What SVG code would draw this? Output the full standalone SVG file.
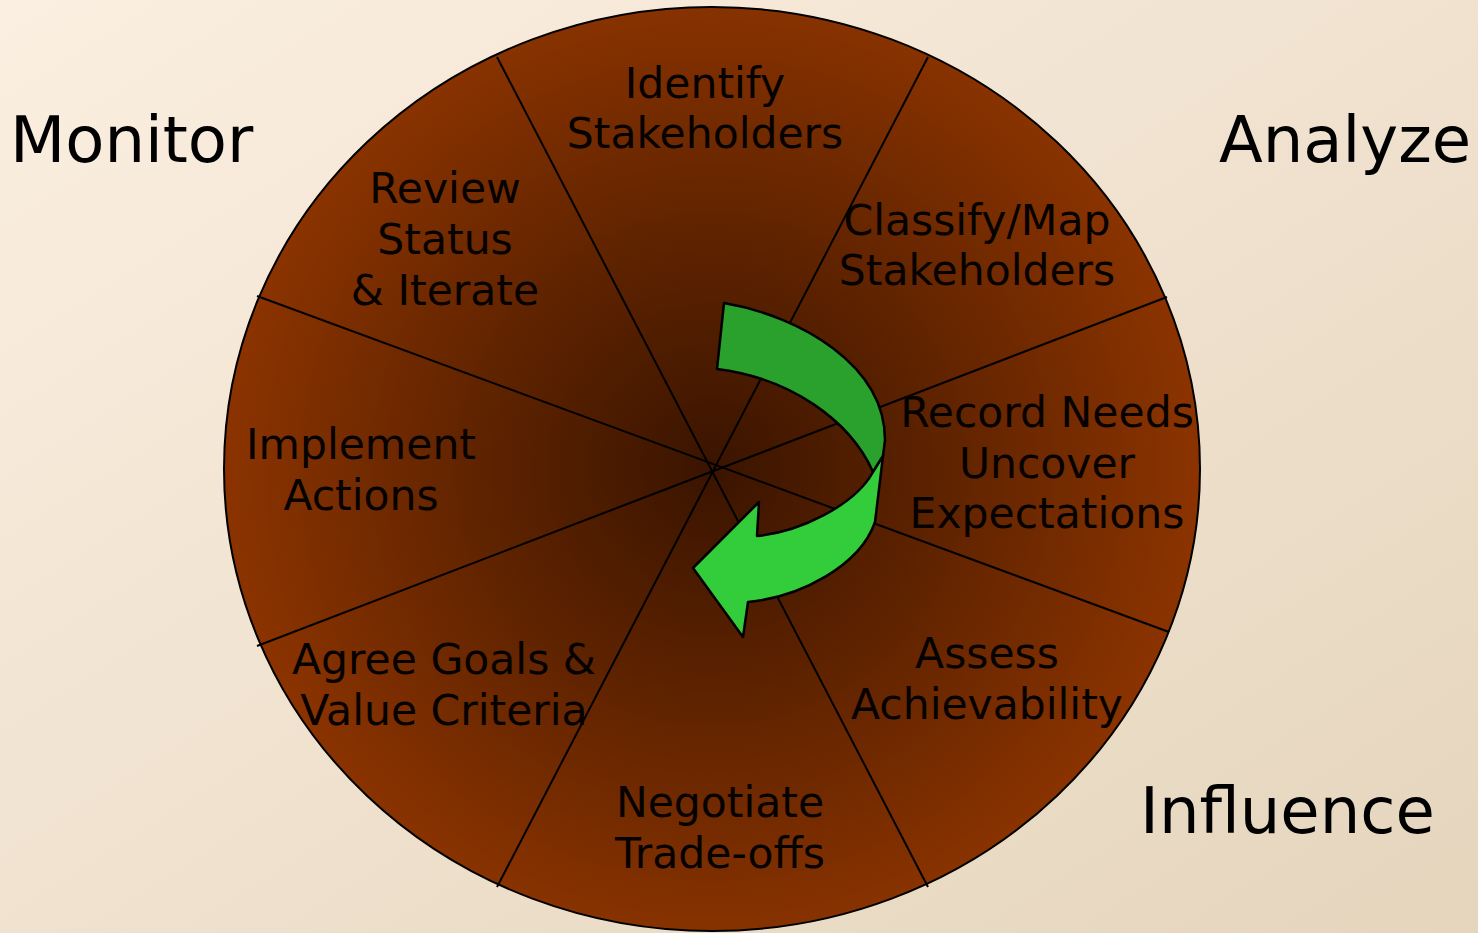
<svg xmlns="http://www.w3.org/2000/svg" width="1478" height="933" viewBox="0 0 1478 933">
  <defs>
    <linearGradient id="bg" x1="0" y1="0" x2="1" y2="1">
      <stop offset="0" stop-color="#FBEFE1"/>
      <stop offset="1" stop-color="#E5D5BD"/>
    </linearGradient>
    <radialGradient id="wheel" cx="712" cy="469" r="480" gradientUnits="userSpaceOnUse">
      <stop offset="0" stop-color="#3A1400"/>
      <stop offset="0.45" stop-color="#5C2200"/>
      <stop offset="1" stop-color="#8A3300"/>
    </radialGradient>
    <style>
      .lbl { font-family: "DejaVu Sans", Verdana, sans-serif; font-size: 42.5px; fill: #050200; text-anchor: middle; }
      .phase { font-family: "DejaVu Sans", Verdana, sans-serif; font-size: 64px; fill: #000; }
      .spoke { stroke: #000; stroke-width: 2; fill: none; }
      .ribbon { stroke: #000; stroke-width: 2.5; stroke-linejoin: round; }
    </style>
  </defs>

  <rect width="1478" height="933" fill="url(#bg)"/>

  <!-- wheel -->
  <g id="wheel-body">
    <ellipse cx="712" cy="469" rx="488" ry="462" fill="url(#wheel)" stroke="#000" stroke-width="2"/>
  </g>

  <!-- sector dividers -->
  <g id="connectors">
    <line class="spoke" x1="497" y1="57" x2="928" y2="887"/>
    <line class="spoke" x1="928" y1="57" x2="497" y2="887"/>
    <line class="spoke" x1="1167" y1="297" x2="257" y2="646"/>
    <line class="spoke" x1="257" y1="296" x2="1169" y2="632"/>
  </g>

  <!-- sector labels -->
  <g id="identify"><text class="lbl" x="705" y="98">Identify<tspan x="705" y="148">Stakeholders</tspan></text></g>
  <g id="classify"><text class="lbl" x="977" y="235">Classify/Map<tspan x="977" y="285">Stakeholders</tspan></text></g>
  <g id="record"><text class="lbl" x="1047" y="427">Record Needs<tspan x="1047" y="478">Uncover</tspan><tspan x="1047" y="528">Expectations</tspan></text></g>
  <g id="assess"><text class="lbl" x="987" y="668">Assess<tspan x="987" y="719">Achievability</tspan></text></g>
  <g id="negotiate"><text class="lbl" x="720" y="817">Negotiate<tspan x="720" y="868">Trade-offs</tspan></text></g>
  <g id="agree"><text class="lbl" x="444" y="674">Agree Goals &amp;<tspan x="444" y="725">Value Criteria</tspan></text></g>
  <g id="implement"><text class="lbl" x="361" y="459">Implement<tspan x="361" y="510">Actions</tspan></text></g>
  <g id="review"><text class="lbl" x="445" y="203">Review<tspan x="445" y="254">Status</tspan><tspan x="445" y="305">&amp; Iterate</tspan></text></g>

  <!-- phase titles -->
  <g id="monitor"><text class="phase" x="10" y="162">Monitor</text></g>
  <g id="analyze"><text class="phase" x="1219" y="162">Analyze</text></g>
  <g id="influence"><text class="phase" x="1140" y="833">Influence</text></g>

  <!-- cycle arrow -->
  <g id="cycle-arrow">
    <path class="ribbon" fill="#2AA12C" d="M724,303 C800,316 885,365 885,440 L883,456 L873,472 C850,420 790,378 717,369 Z"/>
    <path class="ribbon" fill="#33CC3A" d="M883,456 L875,522 C860,566 800,597 748,602 L743,637 L693,568 L759,502 L757,536 C800,532 855,505 873,472 Z"/>
  </g>
</svg>
